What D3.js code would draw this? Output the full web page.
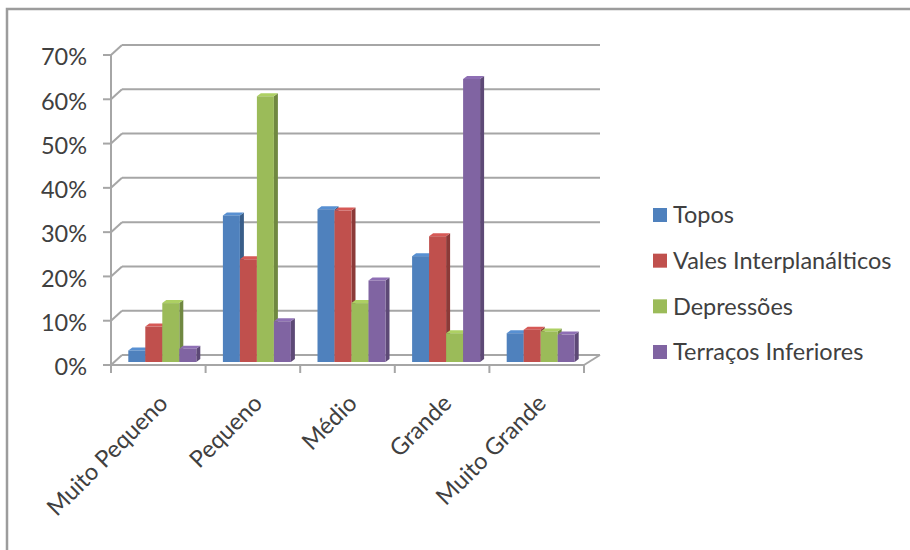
<!DOCTYPE html>
<html>
<head>
<meta charset="utf-8">
<script src="https://cdn.jsdelivr.net/npm/d3@7"></script>
<style>
  html, body { margin: 0; padding: 0; background: #ffffff; }
  svg { display: block; font-family: Lato, "Open Sans", sans-serif; }
</style>
</head>
<body>
<svg id="chart" width="910" height="550"></svg>
<script>
const categories = ["Muito Pequeno", "Pequeno", "Médio", "Grande", "Muito Grande"];
const seriesNames = ["Topos", "Vales Interplanálticos", "Depressões", "Terraços Inferiores"];
const topos      = [0.026, 0.331, 0.345, 0.239, 0.065];
const vales      = [0.080, 0.232, 0.342, 0.284, 0.073];
const depressoes = [0.133, 0.600, 0.133, 0.065, 0.069];
const terracos   = [0.030, 0.092, 0.184, 0.639, 0.062];
const yTicks = [0, 0.1, 0.2, 0.3, 0.4, 0.5, 0.6, 0.7];
const colors = ["#4F81BD", "#C0504D", "#9BBB59", "#8064A2"];

const seriesValues = [topos, vales, depressoes, terracos];

const svg = d3.select("#chart");
const gridColor = "#a6a6a6";
const textColor = "#404040";
const fontSize = 23.5;

// outer border (top and left visible)
svg.append("rect").attr("x", 7).attr("y", 9).attr("width", 940).attr("height", 580)
  .attr("fill", "none").attr("stroke", "#9c9c9c").attr("stroke-width", 2.5);

const frontLeft = 111, frontRight = 584;
const backLeft = 122, backRight = 600;
const depthY = -10;

const y = d3.scaleLinear().domain([0, 0.7]).range([365, 55]);
const x0 = d3.scaleBand().domain(categories).range([frontLeft, frontRight]).paddingInner(0).paddingOuter(0);
const groupGap = (x0.bandwidth() - 68) / 2;
const x1 = d3.scaleBand().domain(seriesNames).range([groupGap, x0.bandwidth() - groupGap]);

// back wall gridlines + left wall diagonals + ticks
const gy = svg.append("g");
yTicks.forEach(t => {
  const yf = y(t), yb = y(t) + depthY;
  gy.append("line").attr("x1", backLeft).attr("x2", backRight).attr("y1", yb).attr("y2", yb)
    .attr("stroke", gridColor).attr("stroke-width", 2);
  gy.append("line").attr("x1", frontLeft).attr("x2", backLeft).attr("y1", yf).attr("y2", yb)
    .attr("stroke", gridColor).attr("stroke-width", 2);
  gy.append("line").attr("x1", frontLeft - 8).attr("x2", frontLeft).attr("y1", yf).attr("y2", yf)
    .attr("stroke", gridColor).attr("stroke-width", 2);
  gy.append("text").attr("x", frontLeft - 24).attr("y", yf + 2).attr("dy", "0.35em")
    .attr("text-anchor", "end").attr("fill", textColor).attr("font-size", fontSize)
    .text(d3.format(".0%")(t));
});
// y axis vertical line
gy.append("line").attr("x1", frontLeft).attr("x2", frontLeft).attr("y1", y(0.7)).attr("y2", y(0))
  .attr("stroke", gridColor).attr("stroke-width", 2);
// floor front and right edge
gy.append("line").attr("x1", frontLeft).attr("x2", frontRight).attr("y1", y(0)).attr("y2", y(0))
  .attr("stroke", gridColor).attr("stroke-width", 2);
gy.append("line").attr("x1", frontRight).attr("x2", backRight).attr("y1", y(0)).attr("y2", y(0) + depthY)
  .attr("stroke", gridColor).attr("stroke-width", 2);
// category ticks
d3.range(categories.length + 1).forEach(i => {
  const xx = frontLeft + i * x0.bandwidth();
  gy.append("line").attr("x1", xx).attr("x2", xx).attr("y1", y(0)).attr("y2", y(0) + 8)
    .attr("stroke", gridColor).attr("stroke-width", 2);
});

// bars (3D)
const bdx = 4, bdy = -3;   // bar front-plane offset
const ddx = 4, ddy = -3;   // bar depth
const bars = svg.append("g");
categories.forEach((c, ci) => {
  seriesNames.forEach((s, si) => {
    const v = seriesValues[si][ci];
    const xl = x0(c) + x1(s) + bdx;
    const w = x1.bandwidth();
    const yt = y(v) + bdy, yb = y(0) + bdy;
    const col = d3.color(colors[si]);
    bars.append("path")
      .attr("d", `M${xl + w},${yb} L${xl + w + ddx},${yb + ddy} L${xl + w + ddx},${yt + ddy} L${xl + w},${yt} Z`)
      .attr("fill", col.darker(0.9));
    bars.append("path")
      .attr("d", `M${xl},${yt} L${xl + ddx},${yt + ddy} L${xl + w + ddx},${yt + ddy} L${xl + w},${yt} Z`)
      .attr("fill", col.brighter(0.3));
    bars.append("rect").attr("x", xl).attr("y", yt).attr("width", w).attr("height", yb - yt)
      .attr("fill", col);
  });
});

// category labels
categories.forEach(c => {
  const cx = x0(c) + x0.bandwidth() / 2;
  svg.append("text")
    .attr("transform", `translate(${cx + 5},${399}) rotate(-45)`)
    .attr("text-anchor", "end").attr("dy", "0.35em")
    .attr("fill", textColor).attr("font-size", fontSize)
    .text(c);
});

// legend
const legendRowY = d3.scalePoint().domain(seriesNames).range([215, 352]);
const lg = svg.append("g");
seriesNames.forEach((s, i) => {
  const ly = legendRowY(s);
  lg.append("rect").attr("x", 653).attr("y", ly - 7).attr("width", 14).attr("height", 14)
    .attr("fill", colors[i]);
  lg.append("text").attr("x", 673).attr("y", ly).attr("dy", "0.35em")
    .attr("fill", textColor).attr("font-size", fontSize).text(s);
});
</script>
</body>
</html>
